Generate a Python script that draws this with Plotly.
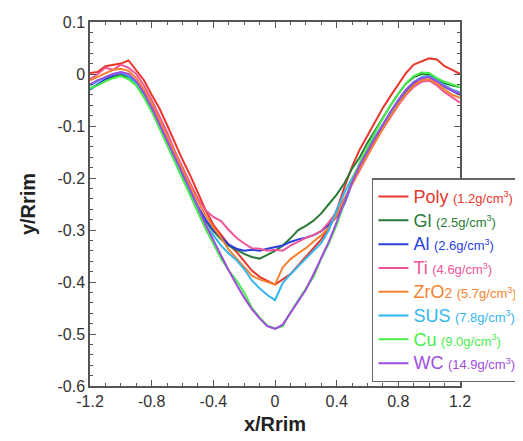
import plotly.graph_objects as go

x_vals = [round(-1.2 + 0.05 * i, 2) for i in range(49)]

poly = [0.002, 0.004, 0.015, 0.018, 0.020, 0.026, 0.008, -0.012, -0.040, -0.066,
        -0.098, -0.132, -0.165, -0.195, -0.228, -0.262, -0.290, -0.310, -0.328, -0.342,
        -0.360, -0.378, -0.390, -0.398, -0.405, -0.395, -0.385, -0.368, -0.352, -0.335,
        -0.318, -0.295, -0.262, -0.218, -0.178, -0.145, -0.118, -0.090, -0.065, -0.042,
        -0.020, 0.002, 0.018, 0.024, 0.030, 0.028, 0.015, 0.008, 0.000]
gl = [-0.028, -0.020, -0.012, -0.005, -0.002, -0.006, -0.020, -0.040, -0.068, -0.100,
      -0.132, -0.165, -0.195, -0.226, -0.256, -0.283, -0.302, -0.318, -0.330, -0.338,
      -0.346, -0.352, -0.355, -0.348, -0.340, -0.330, -0.316, -0.300, -0.292, -0.282,
      -0.268, -0.250, -0.232, -0.210, -0.182, -0.160, -0.132, -0.108, -0.083, -0.060,
      -0.038, -0.018, -0.006, 0.000, -0.002, -0.010, -0.018, -0.022, -0.025]
al = [-0.030, -0.020, -0.010, -0.002, 0.002, -0.004, -0.018, -0.040, -0.066, -0.098,
      -0.130, -0.163, -0.195, -0.225, -0.255, -0.280, -0.300, -0.315, -0.328, -0.336,
      -0.340, -0.338, -0.340, -0.336, -0.333, -0.330, -0.323, -0.318, -0.315, -0.310,
      -0.302, -0.290, -0.275, -0.250, -0.210, -0.180, -0.152, -0.126, -0.100, -0.076,
      -0.053, -0.033, -0.018, -0.008, -0.005, -0.014, -0.025, -0.032, -0.040]
ti = [-0.010, 0.000, 0.012, 0.008, 0.018, 0.012, 0.000, -0.022, -0.050, -0.080,
      -0.112, -0.148, -0.180, -0.210, -0.240, -0.262, -0.275, -0.283, -0.300, -0.315,
      -0.326, -0.335, -0.336, -0.340, -0.338, -0.340, -0.330, -0.322, -0.315, -0.310,
      -0.302, -0.285, -0.265, -0.240, -0.212, -0.183, -0.157, -0.130, -0.105, -0.082,
      -0.060, -0.040, -0.025, -0.015, -0.013, -0.022, -0.035, -0.045, -0.055]
zro2 = [-0.012, -0.005, 0.002, 0.008, 0.010, 0.006, -0.008, -0.030, -0.056, -0.088,
        -0.120, -0.153, -0.185, -0.215, -0.245, -0.272, -0.295, -0.315, -0.338, -0.355,
        -0.370, -0.388, -0.395, -0.400, -0.405, -0.372, -0.356, -0.345, -0.335, -0.322,
        -0.310, -0.295, -0.272, -0.240, -0.210, -0.182, -0.156, -0.130, -0.105, -0.080,
        -0.058, -0.038, -0.022, -0.012, -0.010, -0.018, -0.030, -0.040, -0.046]
sus = [-0.022, -0.014, -0.006, 0.000, 0.003, -0.004, -0.020, -0.043, -0.070, -0.102,
       -0.135, -0.168, -0.200, -0.230, -0.260, -0.290, -0.310, -0.330, -0.345, -0.358,
       -0.375, -0.397, -0.412, -0.425, -0.435, -0.402, -0.385, -0.370, -0.355, -0.342,
       -0.325, -0.300, -0.262, -0.228, -0.200, -0.172, -0.146, -0.120, -0.096, -0.072,
       -0.050, -0.030, -0.015, -0.006, -0.004, -0.012, -0.022, -0.030, -0.035]
cu = [-0.028, -0.022, -0.014, -0.008, -0.004, -0.010, -0.022, -0.045, -0.072, -0.104,
      -0.136, -0.168, -0.200, -0.232, -0.265, -0.298, -0.326, -0.355, -0.378, -0.397,
      -0.420, -0.450, -0.468, -0.484, -0.490, -0.485, -0.458, -0.435, -0.412, -0.390,
      -0.355, -0.325, -0.290, -0.248, -0.205, -0.170, -0.140, -0.112, -0.085, -0.060,
      -0.038, -0.018, -0.004, 0.003, 0.002, -0.008, -0.015, -0.020, -0.025]
wc = [-0.020, -0.012, -0.006, 0.000, 0.004, 0.000, -0.014, -0.036, -0.064, -0.096,
      -0.128, -0.160, -0.190, -0.222, -0.255, -0.290, -0.320, -0.350, -0.378, -0.405,
      -0.430, -0.452, -0.470, -0.485, -0.490, -0.482, -0.460, -0.438, -0.415, -0.385,
      -0.352, -0.322, -0.285, -0.245, -0.208, -0.175, -0.148, -0.122, -0.097, -0.072,
      -0.050, -0.030, -0.016, -0.008, -0.006, -0.014, -0.024, -0.032, -0.038]

names = ["Poly", "Gl", "Al", "Ti", "ZrO2", "SUS", "Cu", "WC"]
densities = ["1.2", "2.5", "2.6", "4.6", "5.7", "7.8", "9.0", "14.9"]
series = [poly, gl, al, ti, zro2, sus, cu, wc]
colors = ["#e8372c", "#2a7a38", "#2a3fe0", "#f0559a", "#f5822e", "#33b6f0", "#48ee48", "#a04ce0"]

fig = go.Figure()
for name, dens, ys, col in zip(names, densities, series, colors):
    disp = name
    if name == "ZrO2":
        disp = "ZrO<span style='font-size:14px'>2</span>"
    label = (f"<span style='color:{col}'><span style='font-size:18px'>{disp}</span> "
             f"<span style='font-size:13px'>({dens}g/cm<sup>3</sup>)</span></span>")
    fig.add_trace(go.Scatter(x=x_vals, y=ys, mode="lines", name=label,
                             line=dict(color=col, width=2)))

axis_common = dict(
    showline=True, linecolor="#555555", linewidth=1.5, mirror="allticks",
    ticks="inside", ticklen=6, tickcolor="#555555", tickwidth=1,
    showgrid=False, zeroline=False,
    tickfont=dict(family="Liberation Sans, Arial", size=16, color="#333333"),
)

fig.update_xaxes(range=[-1.2, 1.2], tickvals=[-1.2, -0.8, -0.4, 0, 0.4, 0.8, 1.2],
                 ticktext=["-1.2", "-0.8", "-0.4", "0", "0.4", "0.8", "1.2"],
                 minor=dict(ticks="inside", dtick=0.1, tick0=0, ticklen=3, tickcolor="#555555"),
                 title=dict(text="<b>x/Rrim</b>", font=dict(family="Liberation Sans, Arial", size=20, color="#222222"), standoff=8),
                 **axis_common)
fig.update_yaxes(range=[-0.6, 0.1], tickvals=[0.1, 0, -0.1, -0.2, -0.3, -0.4, -0.5, -0.6],
                 ticktext=["0.1", "0", "-0.1", "-0.2", "-0.3", "-0.4", "-0.5", "-0.6"],
                 minor=dict(ticks="inside", dtick=0.02, tick0=0, ticklen=3, tickcolor="#555555"),
                 title=dict(text="<b>y/Rrim</b>", font=dict(family="Liberation Sans, Arial", size=20, color="#222222"), standoff=16),
                 **axis_common)

fig.update_layout(
    width=523, height=441,
    margin=dict(l=82, r=71, t=14, b=63, autoexpand=False),
    plot_bgcolor="white", paper_bgcolor="white",
    showlegend=True,
    legend=dict(x=0.762, y=0.571, xanchor="left", yanchor="top",
                bgcolor="white", bordercolor="#666666", borderwidth=1.5,
                font=dict(family="Liberation Sans, Arial", size=16),
                itemwidth=30, tracegroupgap=0),
)

fig.write_html("out.html")
